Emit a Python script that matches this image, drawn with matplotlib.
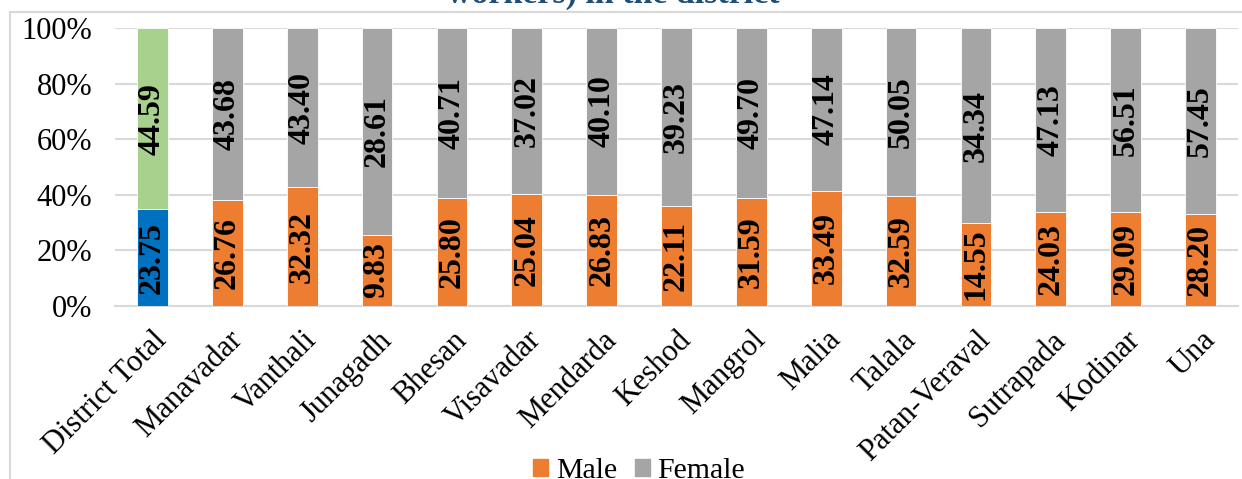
import matplotlib
matplotlib.use("Agg")
import matplotlib.pyplot as plt
from matplotlib.patches import Rectangle, Patch
from matplotlib.ticker import PercentFormatter
import numpy as np

blocks = ["District Total", "Manavadar", "Vanthali", "Junagadh", "Bhesan",
          "Visavadar", "Mendarda", "Keshod", "Mangrol", "Malia", "Talala",
          "Patan-Veraval", "Sutrapada", "Kodinar", "Una"]
male = [23.75, 26.76, 32.32, 9.83, 25.80, 25.04, 26.83, 22.11, 31.59,
        33.49, 32.59, 14.55, 24.03, 29.09, 28.20]
female = [44.59, 43.68, 43.40, 28.61, 40.71, 37.02, 40.10, 39.23, 49.70,
          47.14, 50.05, 34.34, 47.13, 56.51, 57.45]
title_text = "workers) in the district"

plt.rcParams["font.family"] = ["Liberation Serif", "DejaVu Serif"]

W, H = 1242, 479
fig = plt.figure(figsize=(W / 100, H / 100), dpi=100)

# outer chart frame (top and left edges visible)
fig.add_artist(Rectangle((10 / W, -0.1), 1.2, 1 - 12 / H + 0.1,
                         transform=fig.transFigure, fill=False,
                         edgecolor="#D9D9D9", linewidth=1.5))

fig.text(613 / W, 1 - 3 / H, title_text, ha="center", va="baseline",
         fontsize=24.5, fontweight="bold", color="#1F4E79")

ax = fig.add_axes([115 / W, 1 - 306 / H, (1238 - 115) / W, (306 - 28) / H])

m = np.array(male)
f = np.array(female)
tot = m + f
m_pct = m / tot * 100
f_pct = f / tot * 100
x = np.arange(len(blocks))

male_colors = ["#0070C0"] + ["#ED7D31"] * (len(blocks) - 1)
female_colors = ["#A9D18E"] + ["#A5A5A5"] * (len(blocks) - 1)

width = 0.41
ax.bar(x, m_pct, width, color=male_colors, edgecolor="white", linewidth=0.6, zorder=3)
ax.bar(x, f_pct, width, bottom=m_pct, color=female_colors, edgecolor="white",
       linewidth=0.6, zorder=3)

for i in range(len(blocks)):
    ax.text(x[i], m_pct[i] / 2, f"{male[i]:.2f}", rotation=90, ha="center",
            va="center", fontsize=23, fontweight="bold", color="black", zorder=4)
    ax.text(x[i], m_pct[i] + f_pct[i] / 2, f"{female[i]:.2f}", rotation=90,
            ha="center", va="center", fontsize=23, fontweight="bold",
            color="black", zorder=4)

ax.set_xlim(-0.5, len(blocks) - 0.5)
ax.set_ylim(0, 100)
ax.set_yticks(np.arange(0, 101, 20))
ax.yaxis.set_major_formatter(PercentFormatter(decimals=0))
ax.grid(axis="y", color="#D9D9D9", linewidth=1.5, zorder=0)
for s in ["top", "right", "left"]:
    ax.spines[s].set_visible(False)
ax.spines["bottom"].set_color("#D9D9D9")
ax.spines["bottom"].set_linewidth(1.5)
ax.tick_params(axis="both", length=0, labelsize=22, colors="black")
ax.tick_params(axis="y", pad=16.5)
ax.set_xticks(x)
ax.set_xticklabels(blocks, rotation=45, ha="right", rotation_mode="anchor")
ax.tick_params(axis="x", pad=14)

handles = [Patch(color="#ED7D31", label="Male"), Patch(color="#A5A5A5", label="Female")]
fig.legend(handles=handles, loc="center", bbox_to_anchor=(639 / W, 1 - 471 / H),
           ncol=2, frameon=False, fontsize=21.5, handlelength=0.5, handleheight=0.5,
           handletextpad=0.25, columnspacing=0.6, borderpad=0)

fig.savefig("out.png", dpi=100)
